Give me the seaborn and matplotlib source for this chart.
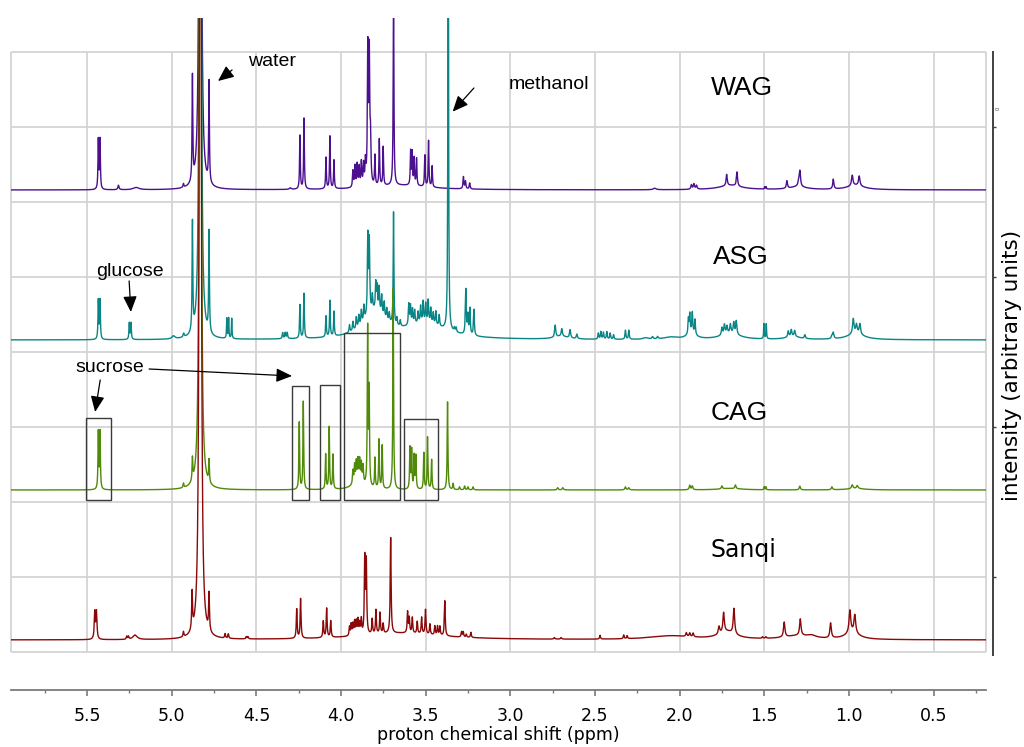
import numpy as np
import pandas as pd
import matplotlib
matplotlib.use("Agg")
import matplotlib.pyplot as plt
import seaborn as sns
from matplotlib.patches import Rectangle

# ---------------- data ----------------
samples = ["WAG", "ASG", "CAG", "Sanqi"]
colors = {"WAG": "#4b0f8f", "ASG": "#0a8585", "CAG": "#4f8a08", "Sanqi": "#8a0808"}

# peak lists: position (ppm), height (grid units), half width (ppm)
wag_ppm = [5.434, 5.424, 5.315, 5.21, 4.931, 4.878, 4.832, 4.780, 4.30, 4.243, 4.219,
           4.089, 4.066, 4.042, 3.93, 3.918, 3.905, 3.893, 3.88, 3.867, 3.856, 3.842,
           3.833, 3.826, 3.80, 3.774, 3.751, 3.69, 3.65, 3.589, 3.580, 3.568, 3.554,
           3.505, 3.483, 3.462, 3.277, 3.265, 3.24, 2.147, 1.93, 1.915, 1.90, 1.70,
           1.722, 1.661, 1.497, 1.489, 1.366, 1.295, 1.289, 1.30, 1.092, 0.96, 0.980, 0.939]
wag_height = [0.66, 0.66, 0.06, 0.03, 0.05, 1.40, 30.0, 1.35, 0.02, 0.72, 0.95,
              0.42, 0.70, 0.38, 0.22, 0.28, 0.30, 0.26, 0.32, 0.28, 0.30, 1.80,
              1.70, 0.55, 0.40, 0.62, 0.52, 2.60, 0.06, 0.45, 0.43, 0.36, 0.36,
              0.42, 0.62, 0.28, 0.16, 0.10, 0.08, 0.02, 0.06, 0.07, 0.05, 0.06,
              0.15, 0.19, 0.03, 0.03, 0.10, 0.08, 0.18, 0.04, 0.13, 0.06, 0.14, 0.13]
wag_width = [0.0025, 0.0025, 0.004, 0.02, 0.003, 0.0025, 0.0033, 0.0025, 0.006, 0.0025, 0.0025,
             0.0025, 0.0025, 0.0025, 0.003, 0.003, 0.003, 0.003, 0.003, 0.003, 0.003, 0.003,
             0.003, 0.003, 0.0025, 0.0025, 0.0025, 0.0025, 0.2, 0.0025, 0.0025, 0.0025, 0.0025,
             0.0025, 0.0025, 0.0025, 0.003, 0.003, 0.003, 0.01, 0.004, 0.004, 0.004, 0.08,
             0.004, 0.004, 0.002, 0.002, 0.004, 0.006, 0.004, 0.06, 0.004, 0.06, 0.005, 0.005]

asg_ppm = [5.434, 5.424, 5.251, 5.241, 4.99, 4.93, 4.878, 4.832, 4.780, 4.675, 4.664, 4.646,
           4.345, 4.33, 4.318, 4.243, 4.219, 4.089, 4.066, 4.042, 3.80, 3.50,
           3.95, 3.93, 3.91, 3.895, 3.88, 3.865, 3.842, 3.833, 3.815, 3.795, 3.787, 3.775,
           3.76, 3.745, 3.73, 3.715, 3.69, 3.67, 3.65, 3.60, 3.59, 3.578, 3.565, 3.545,
           3.53, 3.515, 3.50, 3.485, 3.47, 3.455, 3.44, 3.42, 3.367, 3.33, 3.32, 3.263,
           3.251, 3.239, 3.215, 2.735, 2.70, 2.696, 2.647, 2.607, 2.48, 2.465, 2.45, 2.43,
           2.41, 2.39, 2.32, 2.30, 2.20, 2.16, 2.13, 2.05, 1.948, 1.94, 1.925, 1.909, 1.93,
           1.75, 1.735, 1.72, 1.70, 1.68, 1.665, 1.70, 1.502, 1.488, 1.358, 1.34, 1.32,
           1.33, 1.26, 1.10, 1.092, 0.974, 0.955, 0.935, 0.96]
asg_height = [0.52, 0.52, 0.22, 0.22, 0.04, 0.05, 1.45, 30.0, 1.35, 0.27, 0.27, 0.27,
              0.08, 0.08, 0.08, 0.45, 0.60, 0.28, 0.48, 0.33, 0.35, 0.20,
              0.10, 0.12, 0.15, 0.15, 0.18, 0.20, 1.05, 0.95, 0.20, 0.35, 0.30, 0.32,
              0.25, 0.20, 0.15, 0.12, 1.50, 0.10, 0.08, 0.28, 0.25, 0.20, 0.18, 0.15,
              0.22, 0.28, 0.25, 0.30, 0.20, 0.15, 0.18, 0.15, 8.0, 0.05, 0.06, 0.60,
              0.25, 0.35, 0.35, 0.16, 0.04, 0.10, 0.11, 0.06, 0.08, 0.10, 0.09, 0.10,
              0.08, 0.06, 0.12, 0.12, 0.02, 0.03, 0.03, 0.03, 0.20, 0.25, 0.27, 0.20, 0.08,
              0.10, 0.13, 0.10, 0.12, 0.15, 0.18, 0.08, 0.20, 0.20, 0.08, 0.09, 0.08,
              0.04, 0.05, 0.04, 0.08, 0.20, 0.12, 0.14, 0.08]
asg_width = [0.0025, 0.0025, 0.0025, 0.0025, 0.01, 0.004, 0.0025, 0.0033, 0.0025, 0.002, 0.002, 0.002,
             0.003, 0.003, 0.003, 0.0025, 0.0025, 0.0025, 0.0025, 0.0025, 0.08, 0.15,
             0.003, 0.003, 0.003, 0.003, 0.003, 0.003, 0.003, 0.003, 0.003, 0.003, 0.003, 0.003,
             0.003, 0.003, 0.003, 0.003, 0.0025, 0.003, 0.003, 0.003, 0.003, 0.003, 0.003, 0.003,
             0.003, 0.003, 0.003, 0.003, 0.003, 0.003, 0.003, 0.003, 0.002, 0.003, 0.003, 0.003,
             0.003, 0.003, 0.003, 0.004, 0.05, 0.004, 0.004, 0.004, 0.003, 0.003, 0.003, 0.003,
             0.003, 0.003, 0.003, 0.003, 0.02, 0.004, 0.004, 0.05, 0.003, 0.003, 0.003, 0.003, 0.03,
             0.004, 0.004, 0.004, 0.004, 0.004, 0.004, 0.07, 0.002, 0.002, 0.004, 0.004, 0.004,
             0.05, 0.004, 0.004, 0.004, 0.005, 0.005, 0.005, 0.06]

cag_ppm = [5.434, 5.424, 4.931, 4.878, 4.832, 4.780, 4.247, 4.223, 4.091, 4.070, 4.048,
           3.93, 3.92, 3.91, 3.90, 3.89, 3.88, 3.87, 3.90, 3.843, 3.834, 3.80, 3.776, 3.757,
           3.692, 3.593, 3.583, 3.568, 3.558, 3.511, 3.489, 3.465, 3.371, 3.338, 3.30, 3.27,
           3.25, 3.22, 2.72, 2.69, 2.32, 2.30, 1.94, 1.925, 1.75, 1.67, 1.50, 1.49, 1.29,
           1.10, 0.98, 0.95, 1.70, 0.96]
cag_height = [0.76, 0.76, 0.06, 0.30, 30.0, 0.30, 0.90, 1.18, 0.47, 0.83, 0.46,
              0.18, 0.23, 0.26, 0.28, 0.28, 0.25, 0.23, 0.10, 2.10, 1.25, 0.40, 0.65, 0.58,
              2.68, 0.55, 0.52, 0.44, 0.44, 0.49, 0.70, 0.40, 1.18, 0.08, 0.04, 0.05,
              0.04, 0.04, 0.03, 0.03, 0.04, 0.03, 0.06, 0.05, 0.04, 0.05, 0.04, 0.04, 0.05,
              0.04, 0.05, 0.04, 0.02, 0.02]
cag_width = [0.0025, 0.0025, 0.003, 0.0025, 0.0033, 0.0025, 0.0025, 0.0025, 0.0025, 0.0025, 0.0025,
             0.003, 0.003, 0.003, 0.003, 0.003, 0.003, 0.003, 0.04, 0.0025, 0.0025, 0.0025, 0.0025, 0.0025,
             0.0025, 0.0025, 0.0025, 0.0025, 0.0025, 0.0025, 0.0025, 0.0025, 0.0025, 0.003, 0.003, 0.003,
             0.003, 0.003, 0.004, 0.004, 0.004, 0.004, 0.004, 0.004, 0.004, 0.004, 0.002, 0.002, 0.004,
             0.004, 0.005, 0.005, 0.08, 0.06]

sanqi_ppm = [5.455, 5.445, 5.266, 5.256, 5.217, 4.931, 4.880, 4.832, 4.780, 4.685, 4.666,
             4.56, 4.55, 4.262, 4.239, 4.105, 4.085, 4.061, 3.65, 3.95, 3.94, 3.93, 3.92,
             3.91, 3.90, 3.89, 3.88, 3.860, 3.851, 3.816, 3.794, 3.770, 3.751, 3.707, 3.607,
             3.597, 3.579, 3.55, 3.524, 3.501, 3.475, 3.446, 3.43, 3.416, 3.387, 3.288, 3.278,
             3.26, 3.233, 2.74, 2.70, 2.470, 2.33, 2.31, 2.05, 1.96, 1.94, 1.92, 1.767, 1.740,
             1.679, 1.72, 1.51, 1.49, 1.382, 1.287, 1.22, 1.108, 0.994, 0.965, 1.30, 0.98]
sanqi_height = [0.36, 0.36, 0.04, 0.04, 0.06, 0.07, 0.50, 30.0, 0.50, 0.06, 0.06,
                0.03, 0.03, 0.39, 0.53, 0.22, 0.39, 0.22, 0.09, 0.12, 0.15, 0.15, 0.18,
                0.18, 0.20, 0.15, 0.20, 1.00, 0.95, 0.20, 0.32, 0.28, 0.13, 1.28, 0.28,
                0.20, 0.21, 0.16, 0.22, 0.33, 0.14, 0.12, 0.12, 0.12, 0.47, 0.07, 0.07,
                0.04, 0.07, 0.02, 0.02, 0.05, 0.05, 0.04, 0.05, 0.05, 0.05, 0.05, 0.10, 0.26,
                0.34, 0.10, 0.02, 0.02, 0.20, 0.22, 0.03, 0.20, 0.30, 0.24, 0.05, 0.09]
sanqi_width = [0.0035, 0.0035, 0.003, 0.003, 0.015, 0.003, 0.003, 0.0036, 0.003, 0.003, 0.003,
               0.003, 0.003, 0.003, 0.003, 0.003, 0.003, 0.003, 0.3, 0.003, 0.003, 0.003, 0.003,
               0.003, 0.003, 0.003, 0.003, 0.003, 0.003, 0.003, 0.003, 0.003, 0.003, 0.003, 0.003,
               0.003, 0.003, 0.003, 0.003, 0.003, 0.003, 0.003, 0.003, 0.003, 0.003, 0.003, 0.003,
               0.003, 0.003, 0.004, 0.004, 0.003, 0.003, 0.003, 0.15, 0.004, 0.004, 0.004, 0.005, 0.005,
               0.005, 0.06, 0.003, 0.003, 0.005, 0.005, 0.03, 0.005, 0.006, 0.006, 0.1, 0.05]

peaks = {
    "WAG": (wag_ppm, wag_height, wag_width),
    "ASG": (asg_ppm, asg_height, asg_width),
    "CAG": (cag_ppm, cag_height, cag_width),
    "Sanqi": (sanqi_ppm, sanqi_height, sanqi_width),
}
baselines = {"WAG": 6.16, "ASG": 4.16, "CAG": 2.16, "Sanqi": 0.16}

# boxes around sucrose signals in CAG: (ppm_low, ppm_high, top)
box_low = [5.358, 4.191, 4.008, 3.651, 3.428]
box_high = [5.508, 4.288, 4.125, 3.981, 3.629]
box_top = [3.124, 3.551, 3.560, 4.249, 3.103]
box_bottom = 2.027

major_ticks = [5.5, 5.0, 4.5, 4.0, 3.5, 3.0, 2.5, 2.0, 1.5, 1.0, 0.5]
minor_ticks = [5.75, 5.25, 4.75, 4.25, 3.75, 3.25, 2.75, 2.25, 1.75, 1.25, 0.75, 0.25]
XMAX, XMIN = 5.95, 0.19

# ---------------- build spectra ----------------
grid = np.arange(XMIN, XMAX, 0.0004)
frames = []
for s in samples:
    pp, hh, ww = (np.asarray(a, float) for a in peaks[s])
    y = np.zeros_like(grid)
    for p, h, w in zip(pp, hh, ww):
        y += h / (1.0 + ((grid - p) / w) ** 2)
    frames.append(pd.DataFrame({"ppm": grid, "intensity": y + baselines[s], "sample": s}))
df = pd.concat(frames, ignore_index=True)

# ---------------- figure ----------------
sns.set_theme(style="white")
plt.rcParams["font.family"] = ["DejaVu Sans"]
plt.rcParams["text.color"] = "black"
plt.rcParams["axes.labelcolor"] = "black"

fig = plt.figure(figsize=(10.24, 7.47), dpi=100)
L, R = 11 / 1024, 986 / 1024
B, T = (747 - 690) / 747, (747 - 18) / 747
ax = fig.add_axes([L, B, R - L, T - B])

gcol = "#d4d4d4"
ax.hlines(np.arange(0, 9), XMAX, XMIN, color=gcol, lw=1.3, zorder=0)
ax.vlines(major_ticks, 0, 8, color=gcol, lw=1.3, zorder=0)
ax.vlines([XMAX, XMIN], 0, 8, color=gcol, lw=1.3, zorder=0, clip_on=False)

sns.lineplot(data=df, x="ppm", y="intensity", hue="sample", hue_order=samples,
             palette=colors, estimator=None, sort=False, legend=False, lw=1.0, ax=ax)

ax.set_xlim(XMAX, XMIN)
ax.set_ylim(-0.507, 8.453)

for lo, hi, top in zip(box_low, box_high, box_top):
    ax.add_patch(Rectangle((lo, box_bottom), hi - lo, top - box_bottom, fill=False,
                           ec="#3a3a3a", lw=1.0, zorder=5))

# axes styling
for sp in ["top", "left"]:
    ax.spines[sp].set_visible(False)
ax.spines["bottom"].set_color("#7a7a7a")
ax.spines["bottom"].set_linewidth(1.3)
ax.spines["right"].set_position(("outward", 5))
ax.spines["right"].set_bounds(-0.04, 8.0)
ax.spines["right"].set_color("#404040")
ax.spines["right"].set_linewidth(1.4)
ax.spines["right"].set_visible(True)

ax.set_xticks(major_ticks)
ax.set_xticklabels([f"{t:.1f}" for t in major_ticks])
ax.set_xticks(minor_ticks, minor=True)
ax.tick_params(axis="x", which="major", direction="out", length=4, width=1.2,
               color="#7a7a7a", labelcolor="black", labelsize=12.5, pad=8, bottom=True)
ax.tick_params(axis="x", which="minor", direction="out", length=2, width=1.0,
               color="#7a7a7a", bottom=True)
ax.yaxis.tick_right()
ax.set_yticks([1, 3, 5, 7])
ax.set_yticklabels([])
ax.tick_params(axis="y", which="major", direction="out", length=2.5, width=1.0,
               color="#404040", right=True, left=False)
ax.set_xlabel("proton chemical shift (ppm)", fontsize=12.5, labelpad=1, color="black")
ax.set_ylabel("")
ax.grid(False)

fig.text(1012 / 1024, 1 - 365 / 747, "intensity (arbitrary units)", rotation=90,
         ha="center", va="center", fontsize=15.5, color="black")
fig.text(998 / 1024, 1 - 108 / 747, "0", rotation=90, ha="center", va="center",
         fontsize=3.5, color="#333333")

# labels
arial = "Liberation Sans"
ax.text(1.633, 7.52, "WAG", fontsize=19, family=arial, ha="center", va="center")
ax.text(1.640, 5.267, "ASG", fontsize=19, family=arial, ha="center", va="center")
ax.text(1.645, 3.187, "CAG", fontsize=19, family=arial, ha="center", va="center")
ax.text(1.622, 1.36, "Sanqi", fontsize=17, ha="center", va="center")
ax.text(4.550, 7.867, "water", fontsize=14, family=arial, ha="left", va="center")
ax.text(3.009, 7.56, "methanol", fontsize=14, family=arial, ha="left", va="center")
ax.text(5.246, 5.067, "glucose", fontsize=14, family=arial, ha="center", va="center")
ax.text(5.364, 3.787, "sucrose", fontsize=14, family=arial, ha="center", va="center")

ap = dict(arrowstyle="-|>,head_length=0.8,head_width=0.35", color="black", lw=0.9,
          shrinkA=0, shrinkB=0)
arrows = [((4.644, 7.76), (4.727, 7.613)),
          ((3.215, 7.52), (3.341, 7.204)),
          ((5.252, 4.947), (5.242, 4.533)),
          ((5.423, 3.627), (5.453, 3.20)),
          ((5.134, 3.773), (4.290, 3.68))]
for tail, head in arrows:
    ax.annotate("", xy=head, xytext=tail, arrowprops=ap, zorder=6)

fig.savefig("out.png", dpi=100)
